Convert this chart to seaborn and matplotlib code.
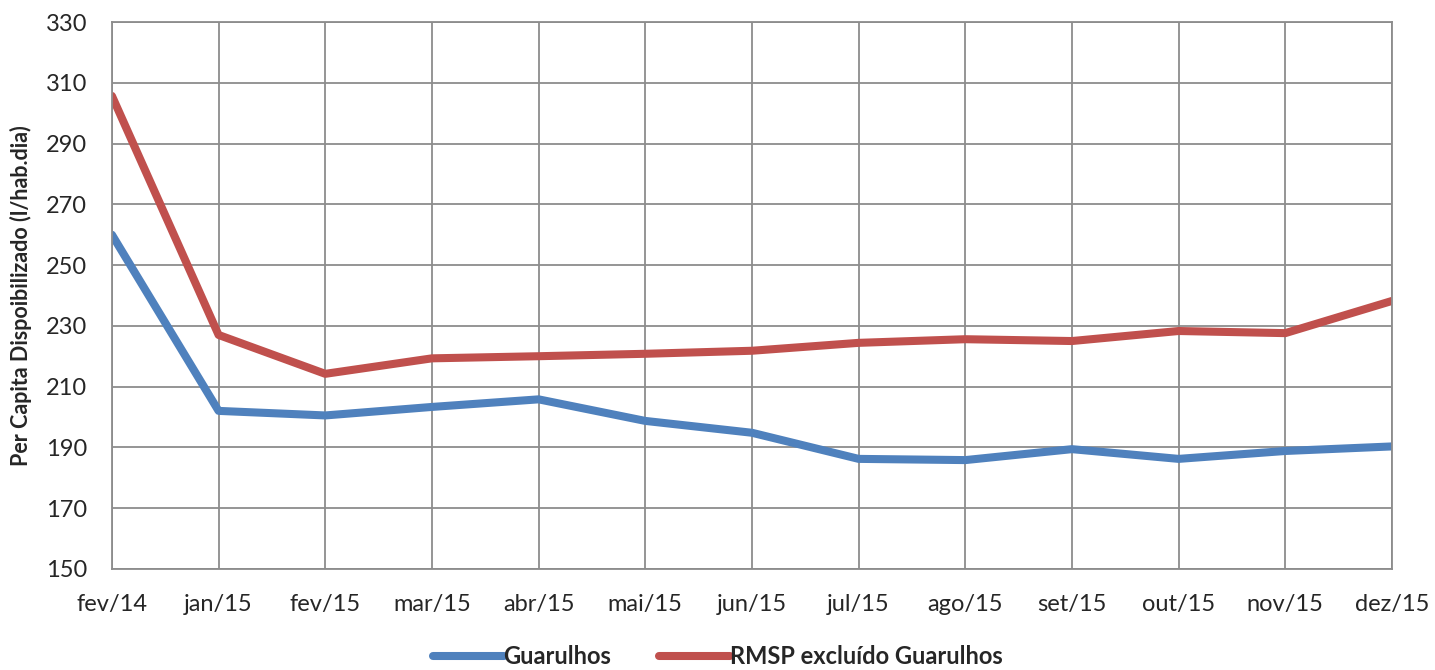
import matplotlib
matplotlib.use('Agg')
import matplotlib.pyplot as plt
import seaborn as sns
import pandas as pd

months = ['fev/14', 'jan/15', 'fev/15', 'mar/15', 'abr/15', 'mai/15', 'jun/15',
          'jul/15', 'ago/15', 'set/15', 'out/15', 'nov/15', 'dez/15']
guarulhos = [260.0, 202.0, 200.5, 203.3, 205.8, 198.7, 194.8,
             186.2, 185.8, 189.4, 186.2, 188.8, 190.3]
rmsp = [305.7, 227.0, 214.2, 219.3, 220.0, 220.8, 221.8,
        224.4, 225.6, 225.0, 228.3, 227.6, 238.2]
y_ticks = list(range(150, 331, 20))

sns.set_style('white')
plt.rcParams['font.family'] = ['Lato', 'DejaVu Sans']

df = pd.DataFrame({
    'idx': list(range(len(months))) * 2,
    'valor': guarulhos + rmsp,
    'serie': ['Guarulhos'] * len(months) + ['RMSP excluído Guarulhos'] * len(months),
})

fig = plt.figure(figsize=(14.35, 6.70), dpi=100)
ax = fig.add_axes([0.078, 0.151, 0.892, 0.816])

sns.lineplot(data=df, x='idx', y='valor', hue='serie', ax=ax,
             palette=['#4F81BD', '#C0504D'], linewidth=5.8,
             solid_capstyle='round', legend=True)

ax.set_xlim(0, len(months) - 1)
ax.set_ylim(150, 330)
ax.set_xticks(range(len(months)))
ax.set_xticklabels(months)
ax.set_yticks(y_ticks)
ax.grid(True, color='#8C8C8C', linewidth=1.3)
ax.set_axisbelow(True)
for s in ax.spines.values():
    s.set_color('#8C8C8C')
    s.set_linewidth(1.3)
ax.tick_params(axis='both', labelsize=17, length=0)
ax.tick_params(axis='x', pad=18)
ax.tick_params(axis='y', pad=18)
ax.set_xlabel('')
ax.set_ylabel('Per Capita Dispoibilizado (l/hab.dia)', fontsize=15.5,
              fontweight='bold', labelpad=10)

# move the legend to the figure bottom
handles, labels = ax.get_legend_handles_labels()
ax.get_legend().remove()
leg = fig.legend(handles, labels, loc='center', bbox_to_anchor=(0.5, 0.02),
                 ncol=2, frameon=False, fontsize=17, handlelength=3.0,
                 handletextpad=0.0, columnspacing=2.0, borderpad=0.1)
for t in leg.get_texts():
    t.set_fontweight('bold')
for h in leg.get_lines():
    h.set_linewidth(5.8)

fig.savefig('out.png', dpi=100)
